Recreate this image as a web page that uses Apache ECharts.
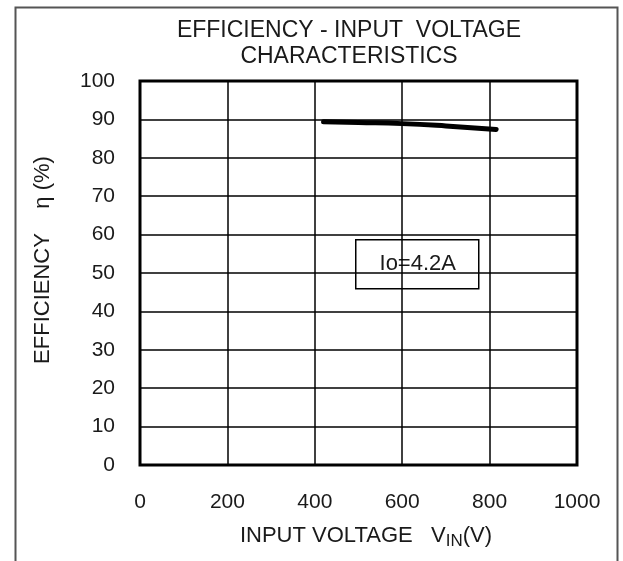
<!DOCTYPE html>
<html>
<head>
<meta charset="utf-8">
<script src="https://cdn.jsdelivr.net/npm/echarts@6/dist/echarts.min.js"></script>
<style>
  html, body { margin: 0; padding: 0; background: #fff; }
  #effChart { width: 623px; height: 561px; }
</style>
</head>
<body>
<div id="effChart"></div>
<script>
// 读图得到的数据
var vinData = [420, 500, 600, 700, 815];
var effData = [89.4, 89.2, 88.9, 88.3, 87.4];
var xTicks = [0, 200, 400, 600, 800, 1000];
var yTicks = [0, 10, 20, 30, 40, 50, 60, 70, 80, 90, 100];

var font = "'Liberation Sans', Arial, sans-serif";
var ink = "#1a1a1a";

var myChart = echarts.init(document.getElementById("effChart"));
var option = {
  animation: false,
  title: {
    text: "EFFICIENCY - INPUT  VOLTAGE\nCHARACTERISTICS",
    left: 349,
    top: 18,
    textAlign: "center",
    padding: 0,
    textStyle: {
      fontFamily: font,
      fontSize: 23,
      fontWeight: "normal",
      color: ink,
      lineHeight: 26
    }
  },
  grid: {
    left: 140,
    top: 81,
    right: 46,
    bottom: 96,
    show: true,
    borderColor: "#000",
    borderWidth: 3,
    backgroundColor: "#fff"
  },
  xAxis: {
    type: "value",
    min: xTicks[0],
    max: xTicks[xTicks.length - 1],
    interval: 200,
    name: "{a|INPUT VOLTAGE   V}{sub|IN}{a|(V)}",
    nameLocation: "middle",
    nameGap: 59,
    nameTextStyle: {
      padding: [0, 0, 0, 15],
      rich: {
        a: { fontFamily: font, fontSize: 22, color: ink, lineHeight: 24 },
        sub: { fontFamily: font, fontSize: 17, color: ink, lineHeight: 24, padding: [10, 0, 0, 0] }
      }
    },
    axisLine: { show: false },
    axisTick: { show: false },
    axisLabel: {
      margin: 27,
      fontFamily: font,
      fontSize: 21,
      color: ink,
      formatter: function (v) { return String(v); }
    },
    splitLine: { lineStyle: { color: "#000", width: 1.5 } }
  },
  yAxis: {
    type: "value",
    min: yTicks[0],
    max: yTicks[yTicks.length - 1],
    interval: 10,
    name: "EFFICIENCY    η (%)",
    nameLocation: "middle",
    nameGap: 86,
    nameTextStyle: {
      fontFamily: font,
      fontSize: 22,
      color: ink,
      padding: [0, 0, 0, 26]
    },
    axisLine: { show: false },
    axisTick: { show: false },
    axisLabel: {
      margin: 25,
      fontFamily: font,
      fontSize: 21,
      color: ink
    },
    splitLine: { lineStyle: { color: "#000", width: 1.5 } }
  },
  graphic: [
    {
      type: "rect",
      left: 13,
      top: 5,
      shape: { width: 602, height: 600 },
      style: { fill: "none", stroke: "#555", lineWidth: 2 },
      silent: true,
      z: -10
    },
    {
      type: "group",
      left: 355,
      top: 239,
      z: 100,
      children: [
        {
          type: "rect",
          shape: { x: 0, y: 0, width: 123, height: 49 },
          style: { fill: "#fff", stroke: "#000", lineWidth: 1.5 }
        },
        {
          type: "text",
          x: 62,
          y: 24.5,
          style: {
            text: "Io=4.2A",
            fontFamily: font,
            fontSize: 22,
            fill: ink,
            align: "center",
            verticalAlign: "middle"
          }
        }
      ]
    }
  ],
  series: [
    {
      name: "Io=4.2A",
      type: "line",
      data: vinData.map(function (v, i) { return [v, effData[i]]; }),
      showSymbol: false,
      smooth: true,
      lineStyle: { color: "#000", width: 5, cap: "round" },
      z: 10
    }
  ]
};
myChart.setOption(option);
</script>
</body>
</html>
